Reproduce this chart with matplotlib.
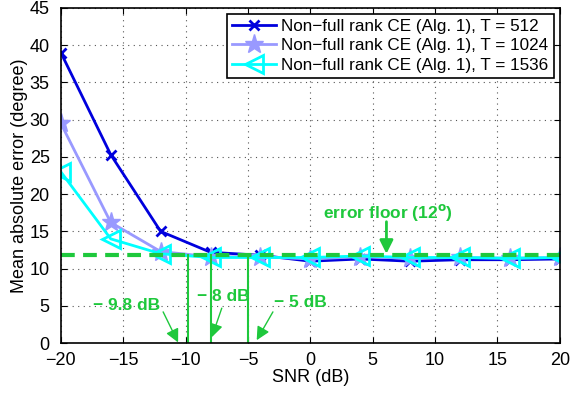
import matplotlib
matplotlib.use("Agg")
import matplotlib.pyplot as plt

snr = [-20, -16, -12, -8, -4, 0, 4, 8, 12, 16, 20]
err_512 = [39.0, 25.3, 15.0, 12.2, 11.8, 11.0, 11.3, 11.0, 11.2, 11.2, 11.3]
err_1024 = [29.5, 16.2, 12.3, 11.6, 11.6, 11.3, 11.6, 11.4, 11.5, 11.4, 11.5]
err_1536 = [23.0, 14.0, 12.0, 11.5, 11.5, 11.5, 11.7, 11.5, 11.5, 11.4, 11.5]
labels = ["Non\u2212full rank CE (Alg. 1), T = 512",
          "Non\u2212full rank CE (Alg. 1), T = 1024",
          "Non\u2212full rank CE (Alg. 1), T = 1536"]
floor_level = 11.8
thresholds = [-9.8, -8, -5]
thr_texts = ["\u2212 9.8 dB", "\u2212 8 dB", "\u2212 5 dB"]

plt.rcParams['font.family'] = ['Liberation Sans', 'DejaVu Sans']
fig = plt.figure(figsize=(5.85, 3.94), dpi=100)
ax = fig.add_axes([0.104, 0.129, 0.853, 0.851])

green = '#1ec83c'
ax.plot(snr, err_512, color='#0000dd', lw=2, marker='x', ms=7, mew=2, label=labels[0])
ax.plot(snr, err_1024, color='#9999ff', lw=2, marker='*', ms=14, label=labels[1])
ax.plot(snr, err_1536, color='#00ffff', lw=2, marker='<', ms=13, mfc='none', mew=2, label=labels[2])

ax.plot([-20, 20], [floor_level, floor_level], color=green, lw=3, ls=(0, (3.3, 2)))
for t in thresholds:
    ax.plot([t, t], [0, floor_level], color=green, lw=1.5)

akw = dict(arrowstyle='-|>', color=green, lw=1, mutation_scale=20, shrinkA=0, shrinkB=0)
tkw = dict(color=green, fontsize=12.5, fontweight='bold', ha='center', va='center')
ax.text(-14.7, 5.1, thr_texts[0], **tkw)
ax.annotate('', xy=(-10.6, 0.1), xytext=(-11.8, 4.2), arrowprops=akw)
ax.text(-7.0, 6.3, thr_texts[1], **tkw)
ax.annotate('', xy=(-7.9, 0.8), xytext=(-7.1, 4.7), arrowprops=akw)
ax.text(-0.8, 5.5, thr_texts[2], **tkw)
ax.annotate('', xy=(-4.3, 0.4), xytext=(-3.0, 4.2), arrowprops=akw)
ax.text(6.2, 17.6, "error floor (12$^{\\mathbf{o}}$)", **tkw)
ax.annotate('', xy=(6.1, 12.0), xytext=(6.1, 16.3), arrowprops=dict(akw, lw=2))

ax.set_xlim(-20, 20)
ax.set_ylim(0, 45)
ax.set_xticks(range(-20, 21, 5))
ax.set_yticks(range(0, 46, 5))
ax.set_xticklabels([str(v).replace('-', '\u2212') for v in range(-20, 21, 5)])
ax.tick_params(direction='in', labelsize=13, top=True, right=True, length=4)
ax.tick_params(axis='x', pad=6)
ax.tick_params(axis='y', pad=8)
ax.grid(True, color='#555555', ls=(0, (1, 4)), lw=0.8)
ax.set_xlabel("SNR (dB)", fontsize=13, labelpad=0)
ax.set_ylabel("Mean absolute error (degree)", fontsize=13, labelpad=1)
for s in ax.spines.values():
    s.set_linewidth(1.2)

leg = ax.legend(loc='upper right', fontsize=12.3, fancybox=False, framealpha=1,
                edgecolor='black', borderpad=0.3, labelspacing=0.25,
                handlelength=2.6, handletextpad=0.3, borderaxespad=0.35)
leg.get_frame().set_linewidth(1.2)

fig.savefig("out.png", dpi=100)
